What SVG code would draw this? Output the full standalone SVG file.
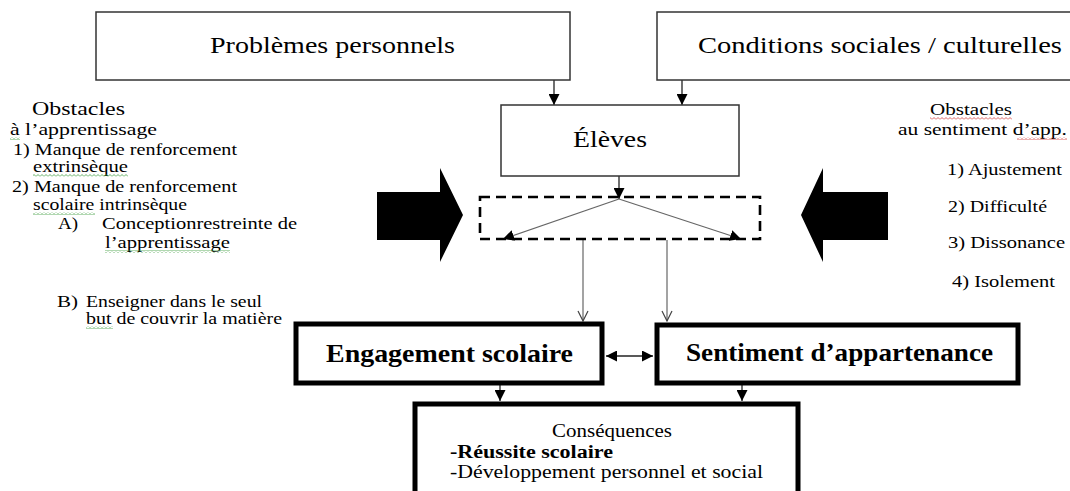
<svg xmlns="http://www.w3.org/2000/svg" width="1070" height="491" viewBox="0 0 1070 491">
  <style>
    .t { font-family: "Liberation Serif", "Times New Roman", Times, serif; fill: #000; }
    .s16 { font-size: 17px; }
    .s18 { font-size: 18px; }
    .s20 { font-size: 23px; }
    .sb { font-size: 25px; font-weight: bold; }
    .b { font-weight: bold; }
    .thin { fill: #fff; stroke: #333; stroke-width: 1.5; }
    .thick { fill: #fff; stroke: #000; stroke-width: 5; }
    .link { stroke: #222; stroke-width: 1.3; fill: none; }
    .feed { stroke: #666; stroke-width: 1.2; fill: none; }
  </style>
  <defs>
    <marker id="tri" viewBox="0 0 10 10" refX="10" refY="5" markerWidth="11" markerHeight="11" markerUnits="userSpaceOnUse" orient="auto-start-reverse">
      <path d="M0,0 L10,5 L0,10 z" fill="#000"/>
    </marker>
    <marker id="vee" viewBox="0 0 12 12" refX="11" refY="6" markerWidth="12" markerHeight="12" markerUnits="userSpaceOnUse" orient="auto">
      <path d="M1,1 L11,6 L1,11" fill="none" stroke="#444" stroke-width="1.2"/>
    </marker>
    <pattern id="sqG" width="4" height="3" patternUnits="userSpaceOnUse">
      <path d="M0,2.5 L2,0.5 L4,2.5" fill="none" stroke="#3c9a3c" stroke-width="0.8"/>
    </pattern>
    <pattern id="sqR" width="4" height="3" patternUnits="userSpaceOnUse">
      <path d="M0,2.5 L2,0.5 L4,2.5" fill="none" stroke="#d23a3a" stroke-width="0.8"/>
    </pattern>
  </defs>

  <!-- connectors -->
  <g id="connectors">
    <line class="link" x1="554" y1="80" x2="554" y2="105" marker-end="url(#tri)"/>
    <line class="link" x1="682" y1="80" x2="682" y2="105" marker-end="url(#tri)"/>
    <line class="link" x1="619" y1="176" x2="619" y2="199" marker-end="url(#tri)"/>
    <line class="feed" x1="619" y1="199" x2="503" y2="239" marker-end="url(#tri)"/>
    <line class="feed" x1="619" y1="199" x2="741" y2="239" marker-end="url(#tri)"/>
    <line class="feed" x1="583" y1="240" x2="583" y2="321" marker-end="url(#vee)"/>
    <line class="feed" x1="667" y1="240" x2="667" y2="321" marker-end="url(#vee)"/>
    <line class="link" x1="606" y1="356" x2="653" y2="356" marker-start="url(#tri)" marker-end="url(#tri)"/>
    <line class="link" x1="500" y1="384" x2="500" y2="401" marker-end="url(#tri)"/>
    <line class="link" x1="742" y1="384" x2="742" y2="401" marker-end="url(#tri)"/>
  </g>

  <!-- influencing factors -->
  <g id="problemes">
    <rect class="thin" x="96" y="12" width="474" height="68"/>
    <text class="t s20" x="210" y="53" textLength="245" lengthAdjust="spacingAndGlyphs">Problèmes personnels</text>
  </g>
  <g id="conditions">
    <rect class="thin" x="657" y="12" width="430" height="68"/>
    <text class="t s20" x="698" y="53" textLength="364" lengthAdjust="spacingAndGlyphs">Conditions sociales / culturelles</text>
  </g>

  <g id="eleves">
    <rect class="thin" x="501" y="105" width="238" height="71"/>
    <text class="t s20" x="573" y="147" textLength="74" lengthAdjust="spacingAndGlyphs">Élèves</text>
  </g>

  <!-- filter zone -->
  <g id="filtre">
    <rect x="480" y="197" width="280" height="42" fill="none" stroke="#000" stroke-width="2.6" stroke-dasharray="10,6"/>
  </g>

  <!-- pressure arrows -->
  <g id="fleche-gauche">
    <polygon points="377,192 440,192 440,168 463,215 440,262 440,240 377,240" fill="#000"/>
  </g>
  <g id="fleche-droite">
    <polygon points="888,192 823,192 823,168 801,215 823,262 823,240 888,240" fill="#000"/>
  </g>

  <!-- outcomes -->
  <g id="engagement">
    <rect class="thick" x="296" y="324" width="306" height="59"/>
    <text class="t sb" x="326" y="362" textLength="247" lengthAdjust="spacingAndGlyphs">Engagement scolaire</text>
  </g>
  <g id="appartenance">
    <rect class="thick" x="657" y="325" width="361" height="58"/>
    <text class="t sb" x="686" y="361" textLength="307" lengthAdjust="spacingAndGlyphs">Sentiment d’appartenance</text>
  </g>
  <g id="consequences">
    <rect class="thick" x="415" y="404" width="383" height="110" stroke-width="6"/>
    <text class="t s18" x="552" y="437" textLength="120" lengthAdjust="spacingAndGlyphs">Conséquences</text>
    <text class="t s18 b" x="450" y="458" textLength="163" lengthAdjust="spacingAndGlyphs">-Réussite scolaire</text>
    <text class="t s18" x="450" y="478" textLength="313" lengthAdjust="spacingAndGlyphs">-Développement personnel  et social</text>
  </g>

  <!-- learning obstacles -->
  <g id="obstacles-apprentissage">
    <text class="t s18" x="32" y="115" textLength="93" lengthAdjust="spacingAndGlyphs">Obstacles</text>
    <text class="t s16" x="10" y="135" textLength="147" lengthAdjust="spacingAndGlyphs">à l’apprentissage</text>
    <text class="t s16" x="13" y="155" textLength="224" lengthAdjust="spacingAndGlyphs">1) Manque de renforcement</text>
    <text class="t s16" x="33" y="172" textLength="95" lengthAdjust="spacingAndGlyphs">extrinsèque</text>
    <text class="t s16" x="12" y="192" textLength="225" lengthAdjust="spacingAndGlyphs">2) Manque de renforcement</text>
    <text class="t s16" x="33" y="210" textLength="154" lengthAdjust="spacingAndGlyphs">scolaire intrinsèque</text>
    <text class="t s16" x="58" y="229" textLength="20" lengthAdjust="spacingAndGlyphs">A)</text>
    <text class="t s16" x="102" y="229" textLength="195" lengthAdjust="spacingAndGlyphs">Conceptionrestreinte de</text>
    <text class="t s16" x="105" y="248" textLength="125" lengthAdjust="spacingAndGlyphs">l’apprentissage</text>
    <text class="t s16" x="57" y="307" textLength="21" lengthAdjust="spacingAndGlyphs">B)</text>
    <text class="t s16" x="86" y="307" textLength="176" lengthAdjust="spacingAndGlyphs">Enseigner dans le seul</text>
    <text class="t s16" x="86" y="324" textLength="196" lengthAdjust="spacingAndGlyphs">but de couvrir la matière</text>
    <rect x="10" y="137" width="10" height="3" fill="url(#sqG)"/>
    <rect x="33" y="174" width="95" height="3" fill="url(#sqG)"/>
    <rect x="33" y="212" width="62" height="3" fill="url(#sqG)"/>
    <rect x="105" y="250" width="125" height="3" fill="url(#sqG)"/>
    <rect x="86" y="326" width="27" height="3" fill="url(#sqG)"/>
  </g>

  <!-- belonging obstacles -->
  <g id="obstacles-appartenance">
    <text class="t s16" x="930" y="115" textLength="82" lengthAdjust="spacingAndGlyphs">Obstacles</text>
    <text class="t s16" x="898" y="135" textLength="169" lengthAdjust="spacingAndGlyphs">au sentiment  d’app.</text>
    <text class="t s16" x="947" y="175" textLength="115" lengthAdjust="spacingAndGlyphs">1) Ajustement</text>
    <text class="t s16" x="948" y="212" textLength="99" lengthAdjust="spacingAndGlyphs">2) Difficulté</text>
    <text class="t s16" x="948" y="248" textLength="117" lengthAdjust="spacingAndGlyphs">3) Dissonance</text>
    <text class="t s16" x="952" y="287" textLength="103" lengthAdjust="spacingAndGlyphs">4) Isolement</text>
    <rect x="930" y="117" width="82" height="3" fill="url(#sqR)"/>
    <rect x="1017" y="137" width="50" height="3" fill="url(#sqR)"/>
  </g>
</svg>
